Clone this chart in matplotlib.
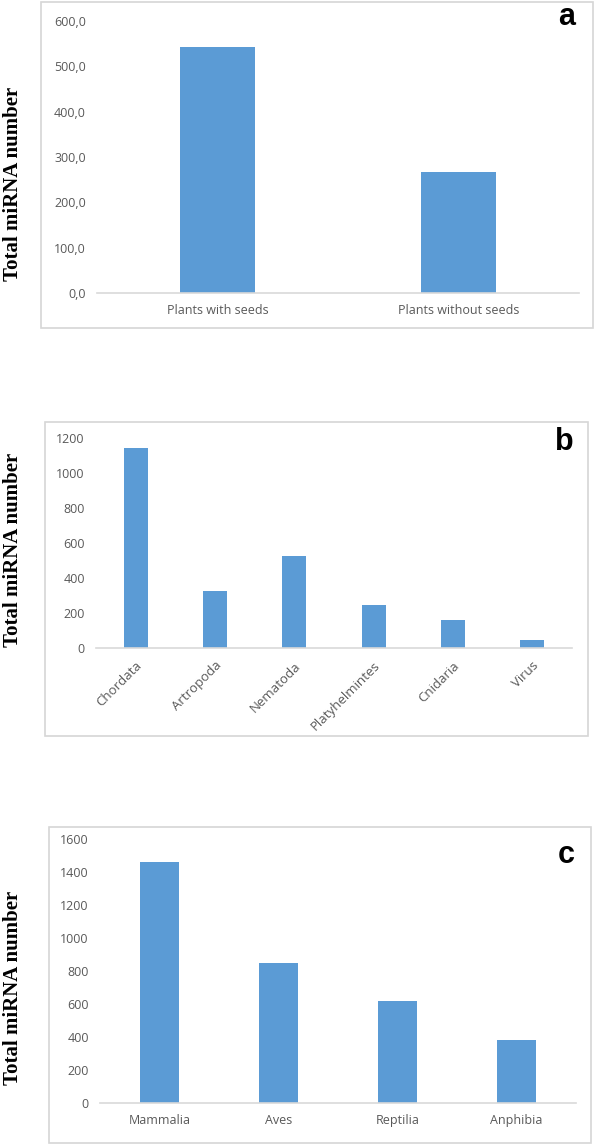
import numpy as np
import matplotlib
matplotlib.use("Agg")
import matplotlib.pyplot as plt
from matplotlib.patches import Rectangle

# panel a
plants = ["Plants with seeds", "Plants without seeds"]
plants_counts = [542, 267]
# panel b
phyla = ["Chordata", "Artropoda", "Nematoda", "Platyhelmintes", "Cnidaria", "Virus"]
phyla_counts = [1143, 324, 524, 246, 162, 44]
# panel c
classes = ["Mammalia", "Aves", "Reptilia", "Anphibia"]
classes_counts = [1460, 848, 621, 380]

W, H = 598, 1146
BAR = "#5B9BD5"
TXT = "#595959"
GRID = "#D9D9D9"

fig = plt.figure(figsize=(W / 100, H / 100), dpi=100)


def px_box(x0, y0, x1, y1):
    # pixel box (top-left origin) -> figure fraction rect
    return [x0 / W, 1 - y1 / H, (x1 - x0) / W, (y1 - y0) / H]


def frame(x0, y0, x1, y1):
    l, b, w, h = px_box(x0, y0, x1, y1)
    fig.patches.append(Rectangle((l, b), w, h, transform=fig.transFigure,
                                 fill=False, edgecolor="#D6D6D6", lw=1.2))


def panel(rect, cats, vals, ymax, step, fmt, letter, letter_xy, ylab_xy,
          width=0.31, rot=0):
    ax = fig.add_axes(px_box(*rect))
    x = np.arange(len(cats))
    ax.bar(x, vals, width=width, color=BAR, zorder=2)
    ax.set_xlim(-0.5, len(cats) - 0.5)
    ax.set_ylim(0, ymax)
    ticks = np.arange(0, ymax + 1, step)
    ax.set_yticks(ticks)
    ax.set_yticklabels([fmt(t) for t in ticks], color=TXT, fontsize=9,
                       family="Open Sans")
    ax.set_xticks(x)
    if rot:
        ax.set_xticklabels(cats, rotation=rot, ha="right", rotation_mode="anchor",
                           color=TXT, fontsize=9.5, family="Open Sans")
    else:
        ax.set_xticklabels(cats, color=TXT, fontsize=9, family="Open Sans")
    ax.tick_params(length=0, pad=8)
    for s in ["top", "right", "left"]:
        ax.spines[s].set_visible(False)
    ax.spines["bottom"].set_color(GRID)
    ax.spines["bottom"].set_linewidth(1.2)
    ax.patch.set_alpha(0)
    fig.text(letter_xy[0] / W, 1 - letter_xy[1] / H, letter, fontsize=22,
             fontweight="bold", family="Liberation Sans", ha="center", va="center")
    fig.text(ylab_xy[0] / W, 1 - ylab_xy[1] / H, "Total miRNA number",
             rotation=90, fontsize=15, fontweight="bold",
             family="Liberation Serif", ha="center", va="center")
    return ax


frame(41, 2, 593, 328)
panel((97, 21, 579, 293), plants, plants_counts, 600, 100,
      lambda t: f"{t:.1f}".replace(".", ","), "a", (567, 17), (13, 184))

frame(45, 422, 588, 736)
panel((96, 438, 572, 648), phyla, phyla_counts, 1200, 200,
      lambda t: f"{int(t)}", "b", (564, 442), (13, 550), width=0.3, rot=45)

frame(49, 827, 591, 1143)
panel((100, 839, 576, 1103), classes, classes_counts, 1600, 200,
      lambda t: f"{int(t)}", "c", (566, 855), (13, 988), width=0.32)

fig.savefig("out.png", dpi=100)
